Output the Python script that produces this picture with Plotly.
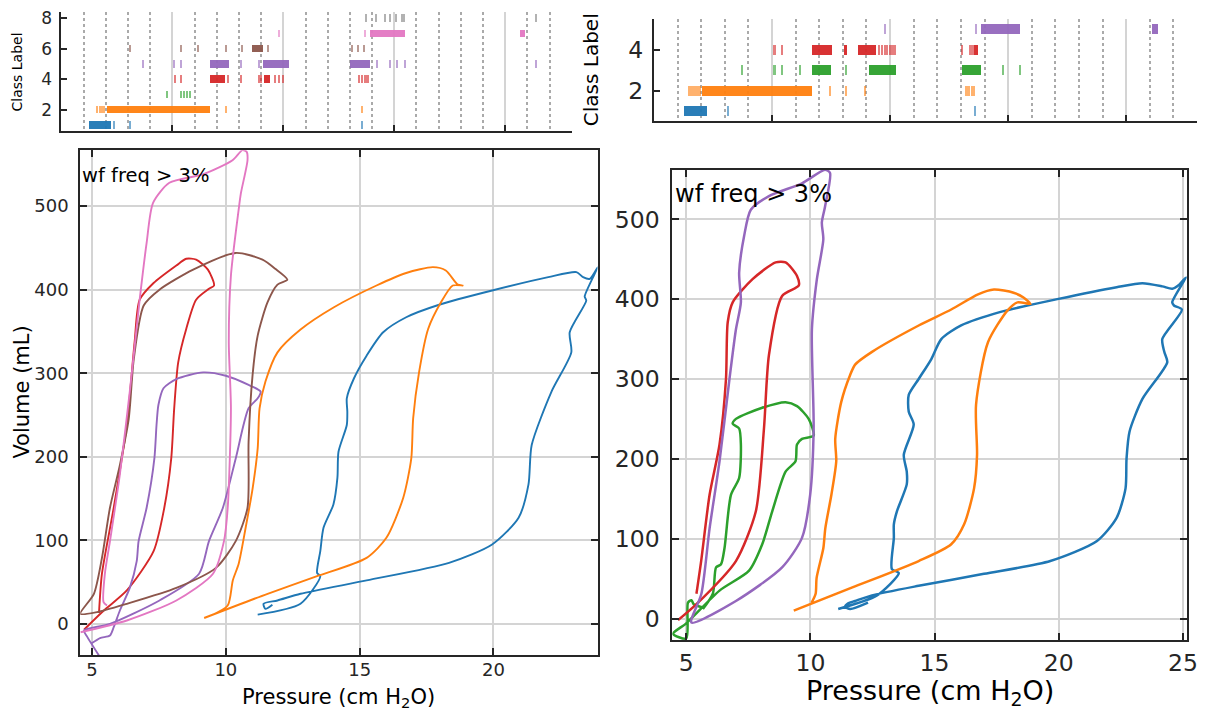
import plotly.graph_objects as go

W, H = 1212, 717

# tab10 colours for class 1..8
CLASS_COLORS = ['#1f77b4', '#ff7f0e', '#2ca02c', '#d62728',
                '#9467bd', '#8c564b', '#e377c2', '#7f7f7f']

# ---- class label timelines: (start, end) segments per class, start==end for thin marks
left_cls1 = [(1.26, 2.24), (2.38, 2.38), (3.10, 3.10), (13.53, 13.53)]
left_cls2 = [(1.60, 1.60), (1.72, 1.72), (1.81, 1.81), (1.93, 1.93), (2.07, 6.72),
             (7.43, 7.43), (13.53, 13.53)]
left_cls3 = [(4.74, 4.74), (5.40, 5.40), (5.52, 5.52), (5.64, 5.64), (5.78, 5.78)]
left_cls4 = [(5.12, 5.12), (5.40, 5.40), (6.72, 7.38), (7.50, 7.50), (8.10, 8.10),
             (8.88, 8.88), (8.98, 8.98), (9.17, 9.43), (9.60, 9.60), (9.79, 9.79),
             (10.0, 10.0), (13.41, 13.41), (13.53, 13.53), (13.66, 13.66), (13.79, 13.84)]
left_cls5 = [(3.67, 3.67), (5.09, 5.09), (5.40, 5.40), (6.72, 7.55), (8.10, 8.10),
             (8.88, 8.88), (9.10, 10.26), (13.02, 13.91), (14.22, 14.22), (14.79, 14.79),
             (15.14, 15.14), (15.48, 15.48), (21.38, 21.38)]
left_cls6 = [(3.07, 3.07), (5.40, 5.40), (6.16, 6.16), (7.41, 7.41), (8.14, 8.14),
             (8.62, 9.10), (9.31, 9.31), (13.10, 13.10), (13.36, 13.36), (13.62, 13.62)]
left_cls7 = [(9.79, 9.79), (13.66, 13.66), (13.91, 15.52), (20.69, 20.90)]
left_cls8 = [(13.71, 13.71), (14.19, 14.19), (14.57, 14.57), (14.79, 14.79), (15.09, 15.09),
             (15.34, 15.34), (15.43, 15.52), (21.38, 21.38)]

right_cls1 = [(1.28, 2.26), (3.11, 3.11), (13.57, 13.57)]
right_cls2 = [(1.48, 1.48), (1.57, 1.57), (1.69, 1.69), (1.80, 1.80), (1.90, 1.90),
              (2.05, 6.69), (7.43, 7.43), (8.11, 8.11), (8.90, 8.90), (13.21, 13.21),
              (13.33, 13.33), (13.44, 13.44), (13.54, 13.54)]
right_cls3 = [(3.69, 3.69), (5.08, 5.08), (5.39, 5.39), (6.16, 6.16), (6.69, 7.51),
              (8.11, 8.11), (9.10, 10.25), (13.03, 13.87), (14.77, 14.77), (15.46, 15.46)]
right_cls4 = [(5.08, 5.08), (5.39, 5.39), (6.70, 7.54), (8.03, 8.16), (8.62, 9.39),
              (9.52, 9.52), (9.64, 9.64), (9.75, 9.75), (9.85, 9.85), (9.97, 9.97),
              (10.08, 10.08), (10.18, 10.18), (13.03, 13.03), (13.38, 13.38), (13.49, 13.49),
              (13.57, 13.74)]
right_cls5 = [(9.77, 9.77), (13.62, 13.62), (13.87, 15.51), (21.11, 21.33)]

# ---- PV loops (pressure cm H2O, volume mL), left panel
left_blue_p = [11.19, 12.79, 13.53, 13.41, 13.53, 13.65, 14.02, 14.17, 14.21, 14.52, 14.54, 14.52,
               14.79, 15.26, 15.88, 16.74, 17.97, 19.95, 22.05, 23.10, 23.35, 23.60, 23.90,
               23.41, 23.47, 22.85, 22.91, 22.17, 21.43, 21.31, 20.94, 19.95, 18.34, 15.26,
               12.79, 11.93, 11.41, 11.48, 11.74]
left_blue_v = [11, 24, 57, 61, 87, 115, 143, 175, 206, 238, 254, 270,
               294, 321, 349, 367, 382, 399, 415, 421, 415, 413, 427,
               392, 387, 349, 325, 278, 214, 167, 127, 95, 73, 52,
               36, 28, 24, 18, 23]
left_orange_p = [9.44, 10.07, 10.26, 10.48, 10.74, 11.0, 11.19, 11.26, 11.48, 11.93, 12.78, 14.04,
                 15.63, 16.74, 17.74, 18.22, 18.67, 18.85, 18.48, 18.04, 17.56, 17.22, 17.0,
                 16.93, 16.63, 16.0, 15.26, 13.41, 11.56, 9.19]
left_orange_v = [10, 22, 52, 72, 115, 162, 210, 258, 290, 325, 352, 379,
                 405, 420, 427, 423, 406, 405, 405, 385, 353, 301, 246,
                 198, 151, 103, 79, 57, 36, 7]
left_red_p = [5.26, 5.37, 5.81, 6.30, 6.59, 6.78, 7.30, 8.15, 8.52, 8.89, 9.33, 9.56, 9.37,
              8.89, 8.52, 8.22, 8.07, 7.96, 7.70, 7.30, 6.30, 5.44, 4.70]
left_red_v = [13, 60, 139, 238, 337, 388, 408, 429, 437, 436, 424, 405, 401,
              388, 353, 313, 258, 198, 139, 87, 40, 16, -7]
left_purple_p = [5.0, 5.30, 5.67, 5.81, 6.04, 6.41, 6.67, 6.74, 7.04, 7.33, 7.41, 7.48, 7.67,
                 8.15, 9.15, 10.0, 10.85, 11.30, 11.19, 10.85, 10.37, 9.89, 9.37, 9.0, 7.52,
                 5.67, 4.70, 4.81, 5.40]
left_purple_v = [-23, -17, -14, -4, 16, 43, 75, 99, 139, 198, 238, 262, 282,
                 293, 301, 297, 286, 278, 270, 258, 198, 139, 99, 60, 28,
                 0, -8, -15, -45]
left_brown_p = [4.56, 5.07, 5.37, 5.67, 6.04, 6.37, 6.56, 6.93, 7.52, 8.78, 10.37, 11.37, 11.85,
                12.30, 11.93, 11.56, 11.19, 11.0, 10.85, 10.81, 10.37, 9.63, 8.15, 6.30, 5.19, 4.56]
left_brown_v = [12, 36, 79, 139, 190, 245, 317, 381, 400, 424, 444, 436, 425,
                412, 406, 385, 345, 298, 218, 139, 99, 67, 43, 24, 14, 12]
left_pink_p = [5.56, 5.43, 5.48, 5.67, 6.04, 6.41, 6.78, 7.04, 7.28, 7.89, 9.14, 10.25, 10.62,
               10.78, 10.81, 10.56, 10.48, 10.19, 10.11, 10.19, 10.07, 9.93, 9.52, 8.15, 6.30, 4.57]
left_pink_v = [22, 26, 60, 99, 179, 278, 388, 456, 504, 528, 538, 555, 567,
               565, 555, 515, 496, 417, 337, 258, 139, 99, 60, 28, 4, -10]

# ---- PV loops, right panel
right_blue_p = [11.12, 12.68, 13.56, 13.28, 13.36, 13.36, 13.48, 13.88, 13.88, 13.76, 14.16, 13.96,
                13.96, 14.36, 14.87, 15.27, 16.07, 17.66, 19.94, 22.33, 23.37, 24.17, 24.57,
                24.85, 25.12, 24.57, 24.64, 24.96, 24.17, 24.25, 24.37, 23.37, 22.85, 22.73,
                22.69, 22.33, 21.54, 19.66, 16.99, 14.36, 12.48, 11.80, 11.52, 11.40, 11.60, 12.32]
right_blue_v = [12, 29, 57, 62, 101, 118, 134, 168, 184, 205, 243, 259,
                280, 300, 325, 350, 367, 384, 400, 415, 420, 416, 413,
                418, 427, 396, 392, 387, 350, 334, 321, 275, 234, 200,
                163, 126, 97, 72, 56, 41, 29, 22, 19, 15, 12, 20]
right_orange_p = [10.05, 10.21, 10.25, 10.52, 10.60, 10.85, 11.04, 11.0, 11.24, 11.60, 11.80, 12.48,
                  14.36, 15.67, 16.75, 17.39, 18.18, 18.58, 18.86, 18.34, 17.94, 17.15, 16.67,
                  16.71, 16.59, 16.19, 15.67, 14.36, 11.69, 9.33]
right_orange_v = [20, 31, 51, 88, 113, 156, 197, 225, 271, 305, 318, 334,
                  367, 387, 406, 412, 408, 402, 394, 396, 386, 346, 268,
                  205, 163, 118, 93, 72, 39, 10]
right_green_p = [5.67, 6.07, 6.20, 6.40, 6.54, 6.80, 7.13, 7.20, 7.13, 6.87, 7.0, 8.06, 9.0, 9.46,
                 9.93, 10.13, 9.66, 9.46, 9.40, 9.0, 8.46, 8.06, 7.53, 6.34, 5.0, 4.47, 5.0, 5.07,
                 5.21, 5.30, 5.67]
right_green_v = [12, 31, 64, 68, 88, 155, 176, 218, 238, 244, 250, 264, 271, 266,
                 250, 229, 225, 218, 197, 184, 134, 93, 60, 35, -6, -19, -25, 20,
                 23, 18, 14]
right_red_p = [5.41, 5.60, 5.94, 6.34, 6.60, 6.67, 6.87, 7.67, 8.60, 9.0, 9.46, 9.53, 8.86,
               8.33, 8.13, 7.80, 7.0, 5.41, 4.67]
right_red_v = [31, 72, 155, 218, 300, 371, 396, 425, 446, 446, 429, 417, 404,
               330, 238, 134, 72, 18, -2]
right_purple_p = [5.21, 5.61, 5.94, 6.34, 6.74, 7.0, 7.20, 7.13, 7.33, 7.60, 8.33, 9.66, 10.59,
                  10.79, 10.59, 10.46, 10.52, 10.26, 10.06, 10.13, 9.99, 9.66, 8.86, 7.0, 5.21]
right_purple_v = [-5, 31, 113, 197, 300, 362, 396, 433, 479, 512, 529, 545, 562,
                  558, 516, 496, 475, 425, 362, 238, 155, 101, 64, 22, -5]

left_loops = [(left_blue_p, left_blue_v, 0), (left_orange_p, left_orange_v, 1),
              (left_red_p, left_red_v, 3), (left_purple_p, left_purple_v, 4),
              (left_brown_p, left_brown_v, 5), (left_pink_p, left_pink_v, 6)]
right_loops = [(right_blue_p, right_blue_v, 0), (right_orange_p, right_orange_v, 1),
               (right_green_p, right_green_v, 2), (right_red_p, right_red_v, 3),
               (right_purple_p, right_purple_v, 4)]


def xp(px):
    return px / W


def yp(py):
    return 1 - py / H


fig = go.Figure()


def add_strip(segments_list, xa, ya):
    for i, segs in enumerate(segments_list):
        starts = [s for s, e in segs]
        lengths = [max(e - s, 0.07) for s, e in segs]
        opac = [0.95 if e - s > 0.1 else 0.6 for s, e in segs]
        fig.add_trace(go.Bar(
            x=lengths, base=starts, y=[i + 1] * len(segs), orientation='h', width=0.5,
            marker=dict(color=CLASS_COLORS[i], opacity=opac, line_width=0),
            xaxis=xa, yaxis=ya, showlegend=False, hoverinfo='skip'))


def add_loops(loops, xa, ya, lw):
    for p, v, ci in loops:
        fig.add_trace(go.Scatter(
            x=p, y=v, mode='lines', line=dict(color=CLASS_COLORS[ci], width=lw,
                                              shape='spline', smoothing=0.7),
            xaxis=xa, yaxis=ya, showlegend=False, hoverinfo='skip'))


add_loops(left_loops, 'x', 'y', 1.9)
add_strip([left_cls1, left_cls2, left_cls3, left_cls4, left_cls5, left_cls6, left_cls7, left_cls8],
          'x2', 'y2')
add_loops(right_loops, 'x3', 'y3', 2.5)
add_strip([right_cls1, right_cls2, right_cls3, right_cls4, right_cls5], 'x4', 'y4')

INK = '#262626'
GRID = '#d4d4d4'
main_ax = dict(showline=True, linecolor=INK, linewidth=2, mirror='ticks', ticks='inside',
               ticklen=7, tickwidth=2, tickcolor=INK, showgrid=True, gridcolor=GRID,
               gridwidth=2, zeroline=False)
strip_x = dict(showline=True, linecolor=INK, linewidth=2, ticks='inside', ticklen=6,
               tickwidth=2, tickcolor=INK, showticklabels=False, range=[0, 23],
               tickvals=[5, 10, 15, 20], showgrid=True, gridcolor=GRID, gridwidth=2,
               zeroline=False,
               minor=dict(dtick=1, tick0=0, showgrid=True, griddash='dot',
                          gridcolor='#aaaaaa', gridwidth=1.5, ticks=''))
strip_y = dict(showline=True, linecolor=INK, linewidth=2, ticks='inside', ticklen=6,
               tickwidth=2, tickcolor=INK, showgrid=False, zeroline=False, ticklabelstandoff=4)

fig.update_layout(
    width=W, height=H, autosize=False, margin=dict(l=0, r=0, t=0, b=0),
    paper_bgcolor='white', plot_bgcolor='white', barmode='overlay', bargap=0,
    font=dict(family='DejaVu Sans', color=INK),
    xaxis=dict(main_ax, domain=[xp(81), xp(603)], range=[4.56, 23.89], tickvals=[5, 10, 15, 20],
               tickfont=dict(size=18), ticklabelstandoff=-3, anchor='y'),
    yaxis=dict(main_ax, domain=[yp(655), yp(147)], range=[-37.7, 567],
               tickvals=[0, 100, 200, 300, 400, 500], tickfont=dict(size=18),
               ticklabelstandoff=6, anchor='x'),
    xaxis2=dict(strip_x, domain=[xp(62), xp(577)], anchor='y2'),
    yaxis2=dict(strip_y, domain=[yp(128), yp(8)], range=[0.58, 8.4], tickvals=[2, 4, 6, 8],
                tickfont=dict(size=17), anchor='x2'),
    xaxis3=dict(main_ax, domain=[xp(678.5), xp(1198)], range=[4.44, 25.17],
                tickvals=[5, 10, 15, 20, 25], tickfont=dict(size=23.5), ticklabelstandoff=0,
                anchor='y3'),
    yaxis3=dict(main_ax, domain=[yp(640), yp(166.7)], range=[-27.4, 562],
                tickvals=[0, 100, 200, 300, 400, 500], tickfont=dict(size=23.5),
                ticklabelstandoff=6, anchor='x3'),
    xaxis4=dict(strip_x, domain=[xp(660), xp(1208)], anchor='y4'),
    yaxis4=dict(strip_y, domain=[yp(118), yp(15)], range=[0.5, 5.5], tickvals=[2, 4],
                tickfont=dict(size=23.5), anchor='x4'),
)

annots = [
    dict(text='wf freq &gt; 3%', x=xp(81), y=yp(172), xanchor='left', size=19.5),
    dict(text='wf freq &gt; 3%', x=xp(679), y=yp(191), xanchor='left', size=24),
    dict(text='Pressure (cm H<sub>2</sub>O)', x=xp(342), y=yp(698), xanchor='center', size=21),
    dict(text='Pressure (cm H<sub>2</sub>O)', x=xp(939), y=yp(692), xanchor='center', size=27),
    dict(text='Volume (mL)', x=xp(22), y=yp(390), xanchor='center', size=21, angle=-90),
    dict(text='Class Label', x=xp(17), y=yp(68), xanchor='center', size=14, angle=-90),
    dict(text='Class Label', x=xp(596), y=yp(66), xanchor='center', size=20, angle=-90),
]
for a in annots:
    fig.add_annotation(text=a['text'], x=a['x'], y=a['y'], xref='paper', yref='paper',
                       xanchor=a['xanchor'], yanchor='middle', showarrow=False,
                       textangle=a.get('angle', 0),
                       font=dict(family='DejaVu Sans', size=a['size'], color='black'))

# put the figure at the window origin: no page margin, no scrollbars, no modebar
fig.write_html("out.html", config={'displayModeBar': False, 'responsive': False},
               post_script="document.body.style.margin='0';"
                           "document.body.style.overflow='hidden';")
